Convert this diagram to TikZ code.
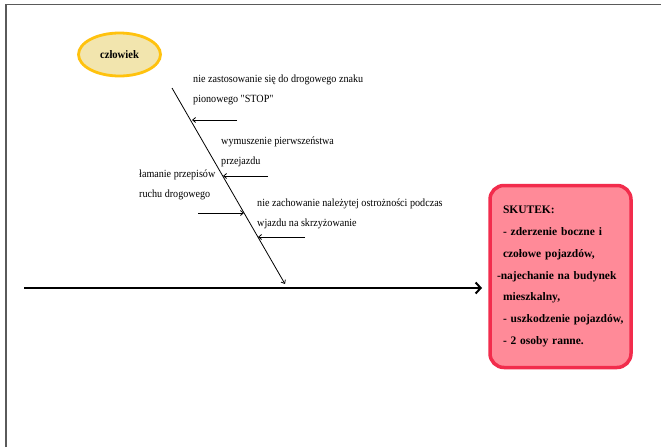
\documentclass[tikz,border=0pt]{standalone}
\usepackage{fontspec}
\setmainfont{Liberation Serif}
\newfontfamily\narrowserif{Liberation Serif}[FakeStretch=0.92]
\usetikzlibrary{arrows.meta,shapes.geometric}
\definecolor{framegray}{HTML}{5A5A5A}
\definecolor{headfill}{HTML}{F2E5AE}
\definecolor{headdraw}{HTML}{FFC20E}
\definecolor{effectfill}{HTML}{FF8A98}
\definecolor{effectdraw}{HTML}{F22C4C}
\tikzset{
  cause/.style={font=\narrowserif\fontsize{11}{20.5}\selectfont, anchor=west, align=left, inner sep=0pt},
  branch/.style={line width=0.8pt, -{Straight Barb[length=3pt,width=5pt]}},
  spine/.style={line width=0.8pt, -{Straight Barb[length=3pt,width=5pt]}},
  mainaxis/.style={line width=2.6pt, -{Straight Barb[length=5pt,width=11pt,line width=2pt]}},
  category/.style={ellipse, draw=headdraw, fill=headfill, line width=2.8pt,
    minimum width=82pt, minimum height=43pt, font=\narrowserif\bfseries\fontsize{11.5}{13}\selectfont},
  effectbox/.style={draw=effectdraw, fill=effectfill, line width=3.5pt, rounded corners=14pt,
    minimum width=140pt, minimum height=182pt, text width=134pt, inner xsep=3.5pt, align=left,
    font=\bfseries\fontsize{11.5}{21.8}\selectfont}
}
\begin{document}
\begin{tikzpicture}[x=1pt,y=-1pt]
  \useasboundingbox (0,0) rectangle (661,447);
  \fill[white] (0,0) rectangle (661,447);
  % frame
  \draw[framegray, line width=1.6pt] (6,447) -- (6,4.5) -- (661,4.5);

  % category and its spine
  \node[category] (human) at (119.5,54.5) {człowiek};
  \coordinate (spinetop) at (172,88);
  \coordinate (spineend) at (285,284);
  \draw[spine] (spinetop) -- (spineend);

  % main axis and effect
  \coordinate (axisstart) at (24,288);
  \node[effectbox] (effect) at (560.5,276.5) {%
    \hspace*{9.5pt}SKUTEK:\\
    \hspace*{9.5pt}- zderzenie boczne i\\
    \hspace*{9.5pt}czołowe pojazdów,\\
    \hspace*{3.5pt}-najechanie na budynek\\
    \hspace*{9.5pt}mieszkalny,\\
    \hspace*{9.5pt}- uszkodzenie pojazdów,\\
    \hspace*{9.5pt}- 2 osoby ranne.};
  \draw[mainaxis] (axisstart) -- (482,288);

  % causes
  \node[cause] (c1) at (193,90) {nie zastosowanie się do drogowego znaku\\pionowego "STOP"};
  \coordinate (b1s) at (237,120);
  \coordinate (b1e) at (192,120);
  \draw[branch] (b1s) -- (b1e);

  \node[cause] (c2) at (221,152) {wymuszenie pierwszeństwa\\przejazdu};
  \coordinate (b2s) at (268,176);
  \coordinate (b2e) at (223,176);
  \draw[branch] (b2s) -- (b2e);

  \node[cause] (c3) at (139,185) {łamanie przepisów\\ruchu drogowego};
  \coordinate (b3s) at (198,213);
  \coordinate (b3e) at (244,213);
  \draw[branch] (b3s) -- (b3e);

  \node[cause] (c4) at (257,214) {nie zachowanie należytej ostrożności podczas\\wjazdu na skrzyżowanie};
  \coordinate (b4s) at (305,237);
  \coordinate (b4e) at (258,237);
  \draw[branch] (b4s) -- (b4e);
\end{tikzpicture}
\end{document}
